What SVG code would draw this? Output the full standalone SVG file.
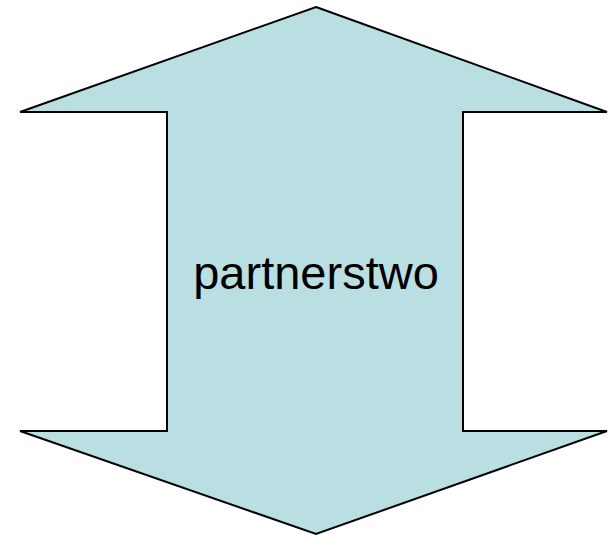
<svg xmlns="http://www.w3.org/2000/svg" width="608" height="536" viewBox="0 0 608 536">
<style>
.shape{fill:#b9dfe3;stroke:#000;stroke-width:2;stroke-linejoin:miter}
.lbl{font-family:"Liberation Sans",Arial,sans-serif;font-size:47px;fill:#000;text-anchor:middle}
</style>
<rect width="608" height="536" fill="#fff"/>
<g id="arrow">
<polygon class="shape" points="316,7 607,112 463,112 463,431 607,431 316,534 20,431 167,431 167,112 20,112"/>
<text class="lbl" x="316" y="289">partnerstwo</text>
</g>
</svg>
